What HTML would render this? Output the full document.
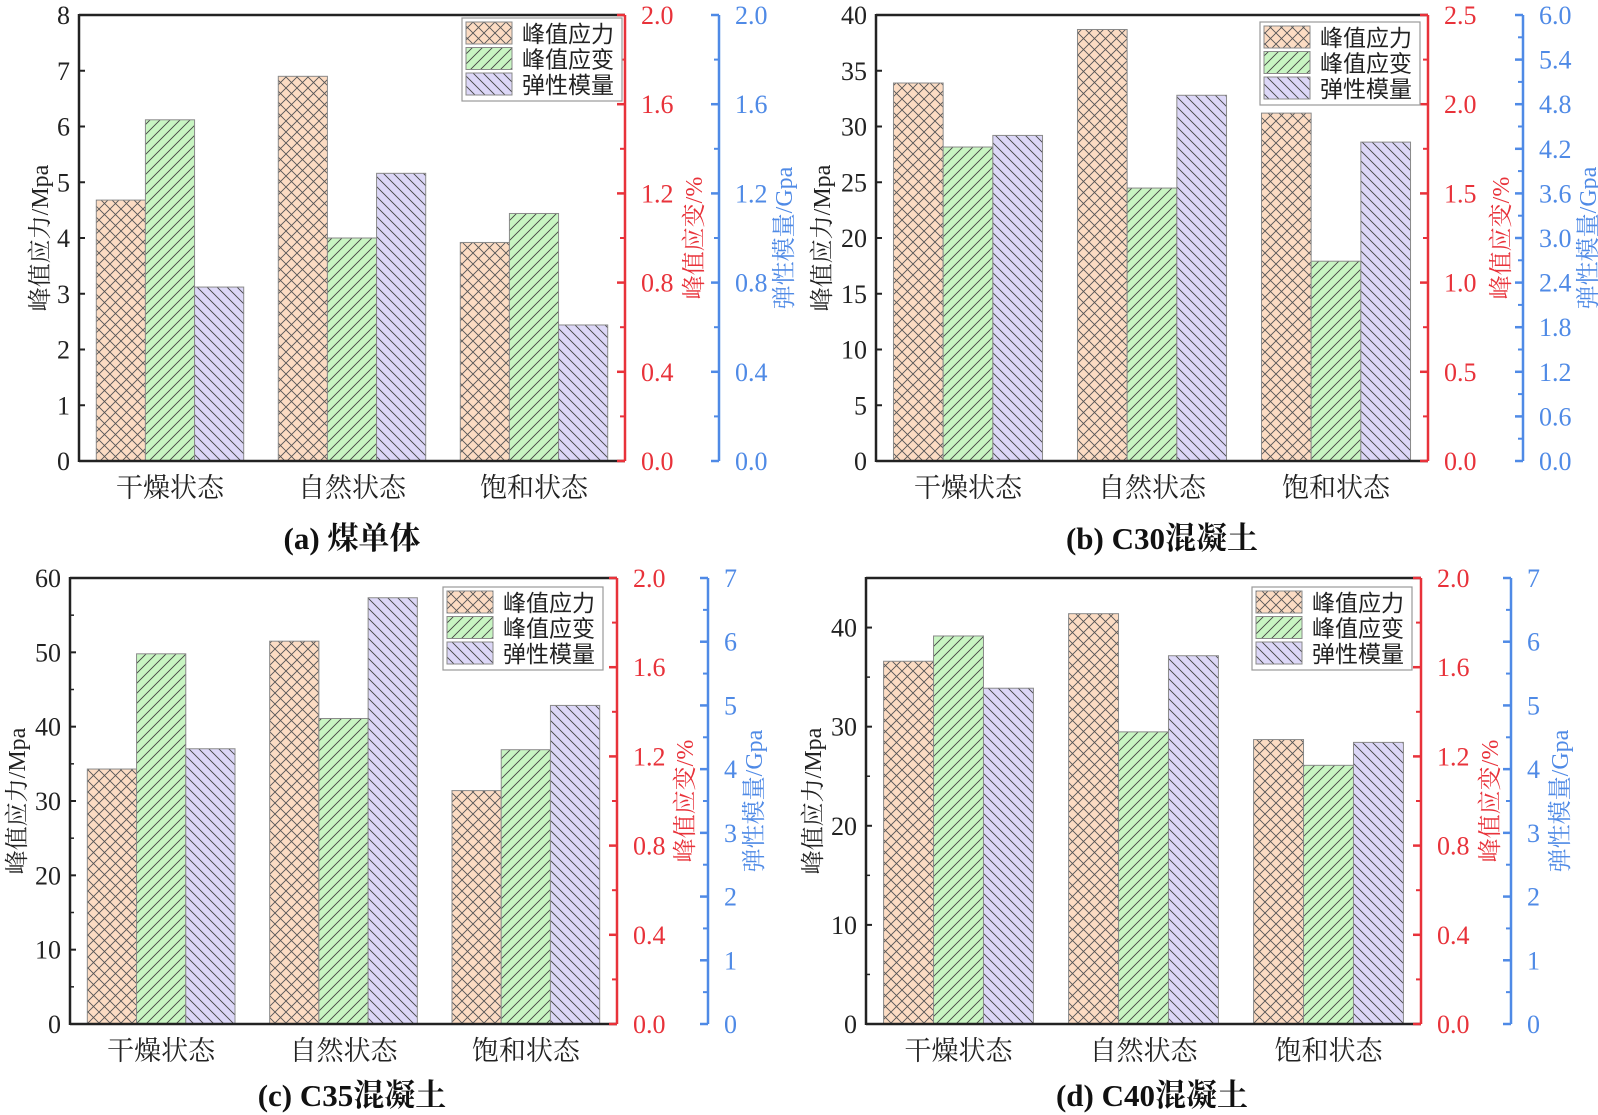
<!DOCTYPE html>
<html><head><meta charset="utf-8">
<style>
html,body{margin:0;padding:0;background:#fff;}
svg{display:block;}
.tk{font-family:"Liberation Serif",serif;font-size:26px;}
.cat{font-family:"Liberation Serif","Noto Serif CJK SC",serif;font-size:27px;fill:#222;}
.ttl{font-family:"Liberation Serif","Noto Serif CJK SC",serif;font-size:24px;}
.lg{font-family:"Liberation Sans","Noto Sans CJK SC",sans-serif;font-size:23px;fill:#222;}
.cap{font-family:"Liberation Serif","Noto Serif CJK SC",serif;font-size:31px;font-weight:bold;fill:#111;}
</style></head>
<body>
<svg id="fig" width="1598" height="1115" viewBox="0 0 1598 1115" xmlns="http://www.w3.org/2000/svg">
<defs>
<pattern id="pStress" patternUnits="userSpaceOnUse" width="11" height="11">
<rect width="11" height="11" fill="#fcdcc3"/>
<path d="M0,0L11,11M11,0L0,11" stroke="#555" stroke-width="0.9"/>
</pattern>
<pattern id="pStrain" patternUnits="userSpaceOnUse" width="10" height="10">
<rect width="10" height="10" fill="#c8f5c2"/>
<path d="M-1,11L11,-1M-6,6L6,-6M4,16L16,4" stroke="#444" stroke-width="0.9"/>
</pattern>
<pattern id="pMod" patternUnits="userSpaceOnUse" width="10" height="10">
<rect width="10" height="10" fill="#dcd7f7"/>
<path d="M-1,-1L11,11M-6,4L6,16M4,-6L16,6" stroke="#444" stroke-width="0.9"/>
</pattern>
</defs>
</svg>
<script>
// ---- data ----
const categories = ["干燥状态", "自然状态", "饱和状态"];
const seriesNames = ["峰值应力", "峰值应变", "弹性模量"];
const stressA = [4.68, 6.9, 3.92];
const strainA = [1.53, 1.0, 1.11];
const modulusA = [0.78, 1.29, 0.61];
const stressB = [33.9, 38.7, 31.2];
const strainB = [1.76, 1.53, 1.12];
const modulusB = [4.38, 4.92, 4.29];
const stressC = [34.3, 51.5, 31.4];
const strainC = [1.66, 1.37, 1.23];
const modulusC = [4.32, 6.69, 5.0];
const stressD = [36.6, 41.4, 28.7];
const strainD = [1.74, 1.31, 1.16];
const modulusD = [5.27, 5.78, 4.42];
const leftTicksA = ["0","1","2","3","4","5","6","7","8"];
const redTicksA = ["0.0","0.4","0.8","1.2","1.6","2.0"];
const blueTicksA = ["0.0","0.4","0.8","1.2","1.6","2.0"];
const leftTicksB = ["0","5","10","15","20","25","30","35","40"];
const redTicksB = ["0.0","0.5","1.0","1.5","2.0","2.5"];
const blueTicksB = ["0.0","0.6","1.2","1.8","2.4","3.0","3.6","4.2","4.8","5.4","6.0"];
const leftTicksC = ["0","10","20","30","40","50","60"];
const redTicksC = ["0.0","0.4","0.8","1.2","1.6","2.0"];
const blueTicksC = ["0","1","2","3","4","5","6","7"];
const leftTicksD = ["0","10","20","30","40"];
const redTicksD = ["0.0","0.4","0.8","1.2","1.6","2.0"];
const blueTicksD = ["0","1","2","3","4","5","6","7"];
const captions = ["(a) 煤单体", "(b) C30混凝土", "(c) C35混凝土", "(d) C40混凝土"];

const RED = "#e8323a", BLUE = "#4f8ae6";
const NS = "http://www.w3.org/2000/svg";
const svg = document.getElementById("fig");
function mk(tag, attrs, parent, text){
  const e = document.createElementNS(NS, tag);
  for (const k in attrs) e.setAttribute(k, attrs[k]);
  if (text !== undefined) e.textContent = text;
  parent.appendChild(e);
  return e;
}

function panel(cfg){
  const g = mk("g", {}, svg);
  
  
  const L = cfg.left, R = cfg.red, B = cfg.blue, T = cfg.top, Y0 = cfg.bottom;
  const yL = v => Y0 - (v / cfg.leftMax) * (Y0 - T);
  const yR = v => Y0 - (v / cfg.redMax) * (Y0 - T);
  const yB = v => Y0 - (v / cfg.blueMax) * (Y0 - T);
  const band = (R - L) / categories.length;
  const bw = band * 0.27;
  const series = [[cfg.stress, yL, "url(#pStress)", "bar-stress"], [cfg.strain, yR, "url(#pStrain)", "bar-strain"], [cfg.modulus, yB, "url(#pMod)", "bar-modulus"]];
  categories.forEach((c, i) => {
    const cx = L + band * (i + 0.5);
    series.forEach((s, j) => {
      const x = cx - 1.5 * bw + j * bw;
      const y = s[1](s[0][i]);
      const r = mk("rect", {x: x, y: y, width: bw, height: Y0 - y, fill: s[2], stroke: "#8a8a8a", "stroke-width": 1}, g);
      
      
    });
    const t = mk("text", {x: cx, y: Y0 + 36, "text-anchor": "middle", class: "cat"}, g, c);
    
    
  });
  mk("line", {x1: L, y1: T, x2: R, y2: T, stroke: "#222", "stroke-width": 2.5}, g);
  const xa = mk("line", {x1: L, y1: Y0, x2: R, y2: Y0, stroke: "#222", "stroke-width": 2.5}, g);
  
  
  const la = mk("line", {x1: L, y1: T - 1, x2: L, y2: Y0 + 1, stroke: "#222", "stroke-width": 2.5}, g);
  
  
  cfg.leftTicks.forEach(lbl => {
    const v = parseFloat(lbl), y = yL(v);
    mk("line", {x1: L, y1: y, x2: L + 6, y2: y, stroke: "#222", "stroke-width": 2}, g);
    const t = mk("text", {x: L - 9, y: y + 9, "text-anchor": "end", class: "tk", fill: "#222"}, g, lbl);
    
    
  });
  if (cfg.leftMinor) {
    for (let v = cfg.leftMinor; v < cfg.leftMax; v += cfg.leftMinor * 2)
      mk("line", {x1: L, y1: yL(v), x2: L + 4, y2: yL(v), stroke: "#222", "stroke-width": 1.5}, g);
  }
  function rightAxis(X, ticks, max, yf, col, name){
    const a = mk("line", {x1: X, y1: T, x2: X, y2: Y0, stroke: col, "stroke-width": 2.5}, g);
    
    
    ticks.forEach((lbl, k) => {
      const v = parseFloat(lbl), y = yf(v);
      mk("line", {x1: X - 8, y1: y, x2: X, y2: y, stroke: col, "stroke-width": 2.5}, g);
      const t = mk("text", {x: X + 16, y: y + 9, class: "tk", fill: col}, g, lbl);
      
      
      if (k < ticks.length - 1) {
        const vm = (v + parseFloat(ticks[k + 1])) / 2;
        mk("line", {x1: X - 5, y1: yf(vm), x2: X, y2: yf(vm), stroke: col, "stroke-width": 2}, g);
      }
    });
  }
  rightAxis(R, cfg.redTicks, cfg.redMax, yR, RED, "strain-axis");
  rightAxis(B, cfg.blueTicks, cfg.blueMax, yB, BLUE, "modulus-axis");
  const cy = (T + Y0) / 2;
  function vtitle(x, txt, col, name){
    const t = mk("text", {x: 0, y: 0, transform: `translate(${x},${cy}) rotate(-90)`, "text-anchor": "middle", "dominant-baseline": "central", class: "ttl", fill: col}, g, txt);
    
    
  }
  vtitle(cfg.lt, "峰值应力/Mpa", "#222", "left-y-axis-title");
  vtitle(cfg.rt, "峰值应变/%", RED, "strain-axis-title");
  vtitle(cfg.bt, "弹性模量/Gpa", BLUE, "modulus-axis-title");
  const lx = cfg.lg[0], ly = cfg.lg[1];
  const lb = mk("rect", {x: lx, y: ly, width: 160, height: 83, fill: "#fff", stroke: "#999", "stroke-width": 1.2}, g);
  
  
  const fills = ["url(#pStress)", "url(#pStrain)", "url(#pMod)"];
  seriesNames.forEach((n, k) => {
    const yy = ly + 4 + k * 25.5;
    mk("rect", {x: lx + 4, y: yy, width: 46, height: 22, fill: fills[k], stroke: "#8a8a8a", "stroke-width": 1}, g);
    const t = mk("text", {x: lx + 60, y: yy + 20, class: "lg"}, g, n);
    
    
  });
  const cp = mk("text", {x: cfg.cap[0], y: cfg.cap[1], "text-anchor": "middle", class: "cap"}, g, cfg.caption);
  
  
}

panel({id: "panel-a", left: 79, red: 625, blue: 719, top: 15, bottom: 461, leftMax: 8, redMax: 2, blueMax: 2, leftMinor: 0,
  stress: stressA, strain: strainA, modulus: modulusA, leftTicks: leftTicksA, redTicks: redTicksA, blueTicks: blueTicksA,
  lt: 41, rt: 695, bt: 785, lg: [462, 18], cap: [352, 549], caption: captions[0]});
panel({id: "panel-b", left: 876, red: 1428, blue: 1523, top: 15, bottom: 461, leftMax: 40, redMax: 2.5, blueMax: 6, leftMinor: 0,
  stress: stressB, strain: strainB, modulus: modulusB, leftTicks: leftTicksB, redTicks: redTicksB, blueTicks: blueTicksB,
  lt: 823, rt: 1502, bt: 1589, lg: [1260, 22], cap: [1162, 549], caption: captions[1]});
panel({id: "panel-c", left: 70, red: 617, blue: 708, top: 578, bottom: 1024, leftMax: 60, redMax: 2, blueMax: 7, leftMinor: 5,
  stress: stressC, strain: strainC, modulus: modulusC, leftTicks: leftTicksC, redTicks: redTicksC, blueTicks: blueTicksC,
  lt: 18, rt: 686, bt: 755, lg: [443, 587], cap: [352, 1106], caption: captions[2]});
panel({id: "panel-d", left: 866, red: 1421, blue: 1511, top: 578, bottom: 1024, leftMax: 45, redMax: 2, blueMax: 7, leftMinor: 5,
  stress: stressD, strain: strainD, modulus: modulusD, leftTicks: leftTicksD, redTicks: redTicksD, blueTicks: blueTicksD,
  lt: 814, rt: 1491, bt: 1561, lg: [1252, 587], cap: [1152, 1106], caption: captions[3]});
</script>
</body></html>
